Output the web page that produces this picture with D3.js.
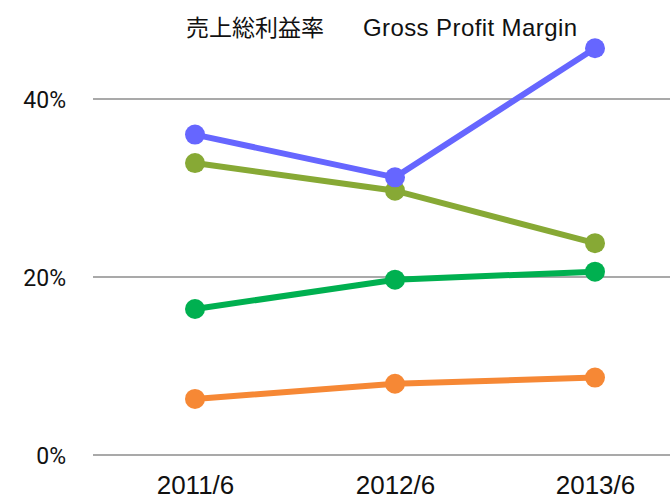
<!DOCTYPE html>
<html>
<head>
<meta charset="utf-8">
<script src="https://cdn.jsdelivr.net/npm/d3@7"></script>
<style>
  body { margin: 0; background: #fff; }
</style>
</head>
<body>
<div id="chart-area"></div>
<script>
const periods = ["2011/6", "2012/6", "2013/6"];
const blueValues = [36.0, 31.2, 45.7];
const oliveValues = [32.8, 29.7, 23.8];
const greenValues = [16.4, 19.7, 20.6];
const orangeValues = [6.3, 8.0, 8.7];
const yTicks = [0, 20, 40];

const seriesList = [
  { values: orangeValues, color: "#f68835" },
  { values: greenValues, color: "#00b050" },
  { values: oliveValues, color: "#87a935" },
  { values: blueValues, color: "#6666ff" }
];

const W = 670, H = 499;

const svg = d3.select("#chart-area")
  .append("svg")
  .attr("width", W)
  .attr("height", H);

const x = d3.scalePoint()
  .domain(periods)
  .range([195, 595]);

const y = d3.scaleLinear()
  .domain([0, 40])
  .range([455, 99]);

// gridlines
svg.append("g")
  .selectAll("line")
  .data(yTicks)
  .enter()
  .append("line")
  .attr("x1", 93)
  .attr("x2", W)
  .attr("y1", d => y(d))
  .attr("y2", d => y(d))
  .attr("stroke", "#8c8c8c")
  .attr("stroke-width", 1.3);

const yAxis = d3.axisLeft(y)
  .tickValues(yTicks)
  .tickFormat(d => d + "%")
  .tickSize(0)
  .tickPadding(0);

const yAxisGroup = svg.append("g")
  .attr("transform", "translate(66, 0)")
  .call(yAxis);
yAxisGroup.select(".domain").remove();
yAxisGroup.selectAll("text")
  .attr("font-family", "Roboto, sans-serif")
  .attr("font-size", "23px")
  .attr("fill", "#111")
  .attr("dy", "0.36em");

const xAxis = d3.axisBottom(x)
  .tickSize(0)
  .tickPadding(0);

const xAxisGroup = svg.append("g")
  .call(xAxis);
xAxisGroup.select(".domain").remove();
xAxisGroup.selectAll("text")
  .attr("font-family", "'Liberation Sans', Arial, sans-serif")
  .attr("font-size", "26px")
  .attr("fill", "#111")
  .attr("y", 494)
  .attr("dy", null);

const line = d3.line()
  .x((d, i) => x(periods[i]))
  .y(d => y(d));

seriesList.forEach(s => {
  const g = svg.append("g");
  g.append("path")
    .datum(s.values)
    .attr("d", line)
    .attr("fill", "none")
    .attr("stroke", s.color)
    .attr("stroke-width", 6);
  g.selectAll("circle")
    .data(s.values)
    .enter()
    .append("circle")
    .attr("cx", (d, i) => x(periods[i]))
    .attr("cy", d => y(d))
    .attr("r", 10)
    .attr("fill", s.color);
});

const title = svg.append("text")
  .attr("x", 186)
  .attr("y", 36)
  .attr("fill", "#111");
title.append("tspan")
  .attr("font-family", "'Noto Sans CJK JP', sans-serif")
  .attr("font-size", "23px")
  .text("売上総利益率");
title.append("tspan")
  .attr("x", 363)
  .attr("font-family", "'Liberation Sans', Arial, sans-serif")
  .attr("font-size", "24px")
  .attr("textLength", 214)
  .text("Gross Profit Margin");
</script>
</body>
</html>
